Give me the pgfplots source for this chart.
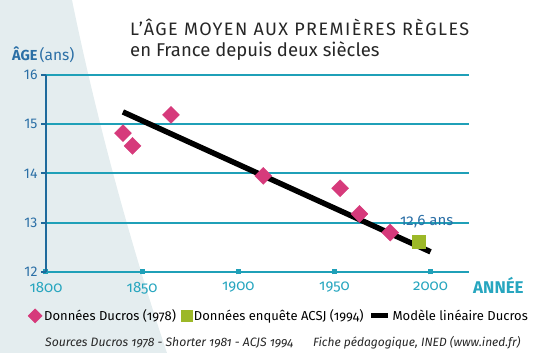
\documentclass[border=0pt]{standalone}
\usepackage{fontspec}
\setmainfont{Fira Sans}[Numbers=OldStyle]
\usepackage{pgfplots}
\pgfplotsset{compat=1.18}
\definecolor{bgshape}{HTML}{E4EDEF}
\definecolor{gridteal}{HTML}{1FA0B8}
\definecolor{axisblue}{HTML}{1E6A9C}
\definecolor{lblblue}{HTML}{2B6FA6}
\definecolor{xlblteal}{HTML}{27A6BF}
\definecolor{magenta}{HTML}{D63A7B}
\definecolor{acsjgreen}{HTML}{9CB828}
\definecolor{titlegray}{HTML}{262626}
\begin{document}
\begin{tikzpicture}[x=1pt,y=1pt]
\useasboundingbox (0,0) rectangle (536,353);
\fill[bgshape] (0,353) -- (72,353) .. controls (95,240) and (130,110) .. (167,0) -- (0,0) -- cycle;
\node[anchor=base west, font=\addfontfeatures{LetterSpace=8}\fontsize{18}{20}\selectfont, text=titlegray, inner sep=0] at (130,317) {L’ÂGE MOYEN AUX PREMIÈRES RÈGLES};
\node[anchor=base west, font=\fontsize{18.5}{20}\selectfont, text=titlegray, inner sep=0] at (130,296) {en France depuis deux siècles};
\node[anchor=west, text=lblblue, inner sep=0] at (12,298) {\fontsize{14.5}{17}\selectfont\bfseries ÂGE\hspace{2pt}\fontsize{15.5}{18}\mdseries (ans)};
\node[anchor=west, text=xlblteal, inner sep=0, font=\fontsize{17}{19}\selectfont\bfseries] at (473,68) {ANNÉE};
\begin{axis}[
  at={(46pt,81pt)}, anchor=south west, scale only axis,
  width=423pt, height=197pt,
  xmin=1800, xmax=2020, ymin=12, ymax=16,
  axis lines*=left,
  x axis line style={gridteal, line width=2pt},
  y axis line style={axisblue, line width=2.5pt},
  ymajorgrids, grid style={gridteal, line width=2pt},
  xtick={1800,1850,1900,1950,2000},
  xticklabels={1800,1850,1900,1950,2000},
  ytick={12,13,14,15,16},
  yticklabels={12,13,14,15,16},
  major tick length=5pt,
  xtick align=center, ytick align=outside,
  xtick style={gridteal, line width=5pt},
  ytick style={axisblue, line width=2pt},
  xticklabel style={text=xlblteal, font=\fontsize{15}{17}\selectfont, yshift=-4pt},
  yticklabel style={text=lblblue, font=\addfontfeatures{Numbers=Lining}\fontsize{14}{16}\selectfont},
  clip=false,
  legend style={at={(-0.05,-0.223)}, anchor=west, draw=none, fill=none,
    font=\fontsize{13}{15}\selectfont, legend columns=3,
    /tikz/every even column/.append style={column sep=3pt},
    legend cell align=left},
]
\addlegendimage{only marks, mark=square*, mark size=5pt, color=magenta, mark options={rotate=45}}
\addlegendentry{Données Ducros (1978)}
\addlegendimage{only marks, mark=square*, mark size=5.5pt, color=acsjgreen}
\addlegendentry{Données enquête ACSJ (1994)}
\addlegendimage{black, line width=5pt}
\addlegendentry{Modèle linéaire Ducros}
\addplot[forget plot, black, line width=5.5pt] coordinates {(1840,15.25) (2000,12.41)};
\addplot[forget plot, only marks, mark=square*, mark size=6pt, color=magenta, mark options={rotate=45}] coordinates {
(1840,14.82) (1845,14.56) (1865,15.19) (1913,13.95) (1953,13.70) (1963,13.18) (1979,12.80)};
\addplot[forget plot, only marks, mark=square*, mark size=6.5pt, color=acsjgreen] coordinates {(1994,12.62)};
\node[text=lblblue, font=\fontsize{15}{17}\selectfont] at (axis cs:1998,13.03) {12,6 ans};
\end{axis}
\node[anchor=west, inner sep=0, text=titlegray, font=\fontsize{12.2}{14}\selectfont\itshape] at (45,10) {Sources Ducros 1978 - Shorter 1981 - ACJS 1994};
\node[anchor=west, inner sep=0, text=titlegray, font=\fontsize{12}{14}\selectfont\itshape] at (313,10) {Fiche pédagogique, INED (www.ined.fr)};
\end{tikzpicture}
\end{document}
